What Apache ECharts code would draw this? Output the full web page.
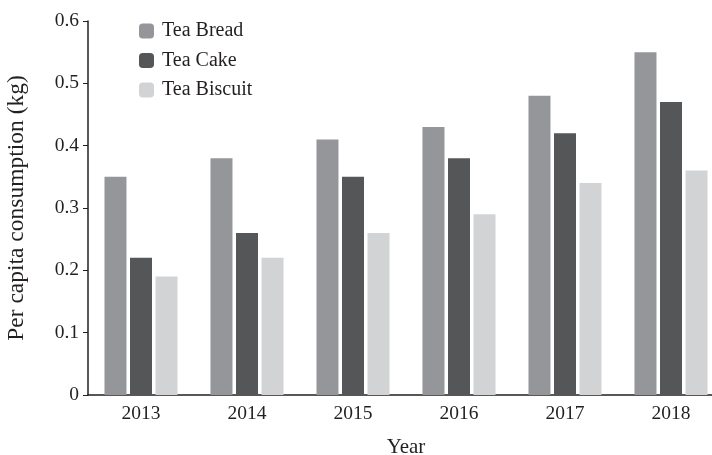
<!DOCTYPE html>
<html>
<head>
<meta charset="utf-8">
<script src="https://cdn.jsdelivr.net/npm/echarts@6/dist/echarts.min.js"></script>
<style>
html, body { margin: 0; padding: 0; background: #fff; }
#main { width: 712px; height: 455px; }
</style>
</head>
<body>
<div id="main"></div>
<script>
// 年份与各系列数据
var years = ['2013', '2014', '2015', '2016', '2017', '2018'];
var teaBread = [0.35, 0.38, 0.41, 0.43, 0.48, 0.55];
var teaCake = [0.22, 0.26, 0.35, 0.38, 0.42, 0.47];
var teaBiscuit = [0.19, 0.22, 0.26, 0.29, 0.34, 0.36];
var yTicks = ['0', '0.1', '0.2', '0.3', '0.4', '0.5', '0.6'];

var font = 'Liberation Serif';
var ink = '#231f20';

var chart = echarts.init(document.getElementById('main'));
var option = {
    animation: false,
    textStyle: {fontFamily: font, color: ink},
    legend: {
        orient: 'vertical',
        left: 139,
        top: 21,
        padding: 0,
        itemWidth: 15,
        itemHeight: 15,
        itemGap: 9.5,
        textStyle: {fontFamily: font, fontSize: 20, color: ink, padding: [0, 0, 0, 3]},
        data: ['Tea Bread', 'Tea Cake', 'Tea Biscuit']
    },
    grid: {
        left: 88,
        top: 21,
        right: -12,
        bottom: 60,
        containLabel: false,
        outerBoundsMode: 'none'
    },
    xAxis: {
        type: 'category',
        data: years,
        name: 'Year',
        nameLocation: 'middle',
        nameGap: 42,
        nameTextStyle: {fontFamily: font, fontSize: 21, color: ink},
        axisLine: {lineStyle: {color: ink, width: 1.5}},
        axisTick: {inside: true, length: 4, lineStyle: {color: ink}},
        axisLabel: {fontFamily: font, fontSize: 19.5, color: ink, margin: 9},
        splitLine: {show: false}
    },
    yAxis: {
        type: 'value',
        min: 0,
        max: 0.6,
        interval: 0.1,
        name: 'Per capita consumption (kg)',
        nameLocation: 'middle',
        nameGap: 59,
        nameTextStyle: {fontFamily: font, fontSize: 23.5, color: ink},
        axisLine: {show: true, lineStyle: {color: ink, width: 1.5}},
        axisTick: {show: true, length: 5, lineStyle: {color: ink}},
        axisLabel: {
            fontFamily: font, fontSize: 19.5, color: ink, margin: 9,
            formatter: function (v) {
                return yTicks[Math.round(v * 10)];
            }
        },
        splitLine: {show: false}
    },
    series: [
        {name: 'Tea Bread', type: 'bar', barWidth: 22, barGap: '16%', itemStyle: {color: '#959699'}, data: teaBread},
        {name: 'Tea Cake', type: 'bar', barWidth: 22, barGap: '16%', itemStyle: {color: '#545658'}, data: teaCake},
        {name: 'Tea Biscuit', type: 'bar', barWidth: 22, barGap: '16%', itemStyle: {color: '#d2d3d5'}, data: teaBiscuit}
    ]
};
chart.setOption(option);
</script>
</body>
</html>
